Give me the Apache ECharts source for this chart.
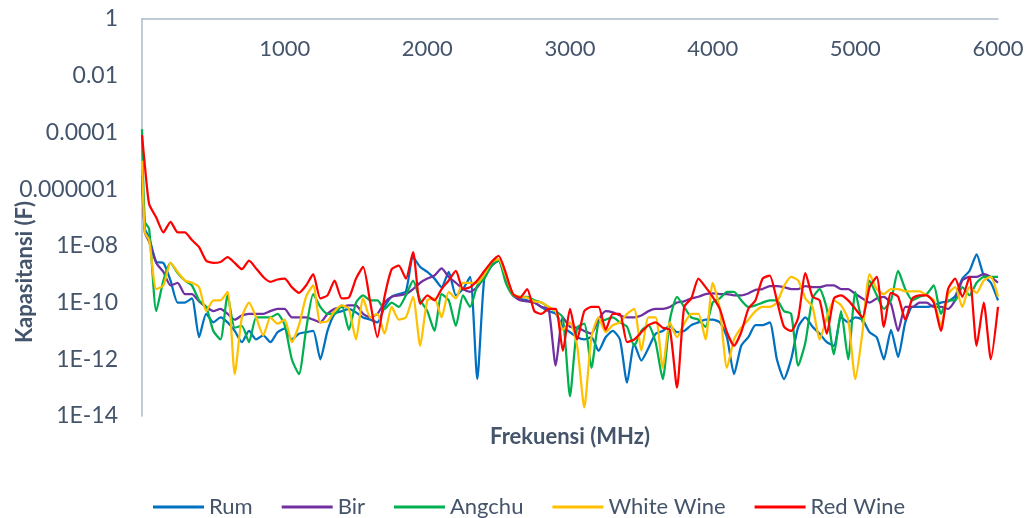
<!DOCTYPE html>
<html>
<head>
<meta charset="utf-8">
<script src="https://cdn.jsdelivr.net/npm/echarts@6/dist/echarts.min.js"></script>
<style>
  html, body { margin: 0; padding: 0; background: #ffffff; }
  #chart { width: 1028px; height: 518px; }
</style>
</head>
<body>
<div id="chart"></div>
<script>
// Frequency grid (MHz)
const freq = [
  0, 20, 50, 100, 150, 200, 250, 300, 350, 400,
  450, 500, 550, 600, 650, 700, 750, 800, 850, 900,
  950, 1000, 1050, 1100, 1150, 1200, 1250, 1300, 1350, 1400,
  1450, 1500, 1550, 1600, 1650, 1700, 1750, 1800, 1850, 1900,
  1950, 2000, 2050, 2100, 2150, 2200, 2250, 2300, 2350, 2400,
  2450, 2500, 2550, 2600, 2650, 2700, 2750, 2800, 2850, 2900,
  2950, 3000, 3050, 3100, 3150, 3200, 3250, 3300, 3350, 3400,
  3450, 3500, 3550, 3600, 3650, 3700, 3750, 3800, 3850, 3900,
  3950, 4000, 4050, 4100, 4150, 4200, 4250, 4300, 4350, 4400,
  4450, 4500, 4550, 4600, 4650, 4700, 4750, 4800, 4850, 4900,
  4950, 5000, 5050, 5100, 5150, 5200, 5250, 5300, 5350, 5400,
  5450, 5500, 5550, 5600, 5650, 5700, 5750, 5800, 5850, 5900,
  5950, 6000
];

// Capacitance (F) per sample
const rum = [
  5e-6, 4e-8, 2e-8, 2.7e-9, 2.5e-9, 6e-10, 1e-10, 1e-10, 1.4e-10, 6e-12,
  4e-11, 2e-11, 3e-11, 2e-11, 1e-11, 4e-12, 1e-11, 5e-12, 7e-12, 4e-12,
  9e-12, 1.2e-11, 5e-12, 8e-12, 9e-12, 1e-11, 1e-12, 1e-11, 4e-11, 5e-11,
  6e-11, 4.5e-11, 3e-11, 2.5e-11, 2e-11, 7e-11, 1.6e-10, 2e-10, 2.5e-10, 4e-9,
  1.8e-9, 1.2e-9, 7e-10, 3.5e-10, 1.2e-9, 1.8e-10, 3e-10, 8e-10, 2e-13, 8e-10,
  2e-9, 3e-9, 8e-10, 2e-10, 1.4e-10, 1.2e-10, 1e-10, 7e-11, 5e-11, 4e-11,
  1.4e-11, 9e-12, 6e-12, 5e-12, 6e-12, 2e-12, 6e-12, 1e-11, 5e-12, 1.5e-13,
  3.5e-12, 9e-13, 2.5e-12, 8e-12, 1e-11, 1.5e-11, 9e-12, 1e-11, 1.6e-11, 2e-11,
  2.5e-11, 2.5e-11, 2e-11, 6e-12, 3e-13, 3e-12, 6e-12, 1.6e-11, 1.6e-11, 2e-11,
  1e-12, 2e-13, 1e-12, 1.4e-11, 3e-11, 1.4e-11, 8e-12, 4e-12, 3e-12, 3e-11,
  2e-11, 3e-11, 2.5e-11, 9e-12, 6e-12, 1e-12, 1.1e-11, 1.2e-12, 2e-11, 7e-11,
  7e-11, 7e-11, 8e-11, 1e-10, 1.1e-10, 1.7e-10, 7e-10, 1.3e-9, 5e-9, 9e-10,
  5e-10, 1.2e-10
];
const bir = [
  3e-6, 3e-8, 1.4e-8, 2.5e-9, 1.2e-9, 4e-10, 5e-10, 2e-10, 2e-10, 1.1e-10,
  7e-11, 5e-11, 6e-11, 4e-11, 2.5e-11, 3.5e-11, 4e-11, 4e-11, 4e-11, 5e-11,
  6e-11, 6e-11, 3e-11, 3e-11, 3e-11, 2.5e-11, 2e-11, 4e-11, 6e-11, 7e-11,
  8e-11, 8e-11, 4e-11, 3e-11, 4e-11, 1e-10, 1.6e-10, 1.8e-10, 2e-10, 3e-10,
  5e-10, 7e-10, 9e-10, 1.6e-9, 8e-10, 5e-10, 3e-10, 2.4e-10, 3.5e-10, 8e-10,
  2e-9, 3e-9, 7e-10, 1.8e-10, 1.2e-10, 1.1e-10, 1e-10, 7e-11, 6e-11, 6e-13,
  3e-11, 1.4e-11, 1.3e-11, 1e-11, 8e-12, 2.5e-11, 5e-11, 4.5e-11, 3.5e-11, 3e-11,
  3e-11, 3.5e-11, 5e-11, 6e-11, 6e-11, 7e-11, 1e-10, 1.1e-10, 1.4e-10, 1.6e-10,
  2e-10, 2.1e-10, 2e-10, 2e-10, 1.8e-10, 1.8e-10, 2.1e-10, 2.8e-10, 3e-10, 3.8e-10,
  3.8e-10, 3.5e-10, 3e-10, 3e-10, 3.8e-10, 3.5e-10, 3.5e-10, 4e-10, 4e-10, 3e-10,
  3e-10, 2e-10, 1.4e-10, 1e-10, 1.4e-10, 1.6e-10, 9e-11, 1e-11, 7e-11, 7e-11,
  1e-10, 1e-10, 7e-11, 7e-11, 6e-11, 1.2e-10, 6e-10, 8e-10, 8e-10, 1e-9,
  8e-10, 5e-10
];
const angchu = [
  1.3e-4, 7e-8, 4e-8, 5e-11, 6e-10, 2.5e-9, 1.1e-9, 6e-10, 4e-10, 1.2e-10,
  7e-11, 1e-11, 5e-12, 1.8e-10, 1.3e-11, 1.5e-11, 4e-12, 3e-11, 3e-11, 3e-11,
  4e-11, 1.6e-11, 1e-12, 3e-13, 1.1e-11, 2e-10, 7e-11, 4e-11, 4e-11, 8e-11,
  1.1e-11, 1e-10, 1.8e-10, 1.2e-10, 1.2e-10, 6e-11, 1e-10, 7e-11, 1.8e-10, 6e-10,
  1.2e-10, 5e-11, 1e-11, 2e-10, 1.2e-10, 1.5e-11, 1.8e-10, 7e-11, 4e-10, 7e-10,
  2e-9, 3e-9, 5e-10, 1.8e-10, 1.6e-10, 1.6e-10, 1.2e-10, 1e-10, 7e-11, 5e-11,
  3e-11, 5e-14, 1.3e-11, 1.8e-11, 5e-13, 2e-11, 2.5e-11, 3e-11, 2e-11, 1.4e-11,
  3e-12, 1e-11, 1.6e-11, 4e-12, 2e-13, 2.5e-11, 1.6e-10, 7e-11, 3e-11, 2.5e-11,
  1.4e-11, 1e-10, 1.4e-10, 2.4e-10, 2.4e-10, 1.2e-10, 7e-11, 8e-11, 1e-10, 1.2e-10,
  1.2e-10, 5e-11, 4e-11, 6e-13, 4e-12, 1.4e-10, 3e-10, 6e-11, 1.5e-12, 5e-11,
  1e-12, 2.4e-10, 2e-11, 6e-10, 1.8e-10, 6e-11, 1.2e-10, 1.3e-9, 3e-10, 1.2e-10,
  1.6e-10, 2e-10, 4e-10, 4e-11, 1.2e-10, 1.2e-10, 3.5e-10, 1.8e-10, 5e-10, 8e-10,
  8e-10, 8e-10
];
const whiteWine = [
  1e-5, 3e-8, 1.6e-8, 3e-10, 4e-10, 2.5e-9, 1.2e-9, 6e-10, 5e-10, 3.5e-10,
  5e-11, 1.2e-10, 1.2e-10, 2.4e-10, 3e-13, 3e-11, 1e-10, 3e-11, 7e-12, 3e-11,
  1.8e-11, 2.5e-11, 4e-12, 1.6e-11, 1.6e-10, 4e-10, 2e-11, 2.2e-11, 5e-11, 8e-11,
  6e-11, 5e-12, 1.4e-10, 3e-11, 4e-11, 8e-12, 7e-11, 2.5e-11, 3e-11, 1.6e-10,
  3e-12, 1.2e-10, 1.4e-10, 3e-11, 2.4e-10, 1.4e-10, 5e-10, 5e-10, 5e-10, 1e-9,
  2.7e-9, 3.4e-9, 9e-10, 2e-10, 1.6e-10, 1.5e-10, 1.1e-10, 1e-10, 7e-11, 5e-11,
  1.1e-11, 2e-11, 3e-12, 2e-14, 6e-12, 3e-11, 9e-12, 1.6e-11, 2e-11, 4e-11,
  6e-11, 2e-12, 3e-11, 3e-11, 5e-13, 2e-11, 6e-12, 1.8e-11, 4e-11, 4e-11,
  5e-12, 5e-10, 6e-11, 5e-13, 5e-12, 1.3e-11, 2.5e-11, 5e-11, 7e-11, 7e-11,
  1e-10, 3.8e-10, 8e-10, 6e-10, 1.4e-10, 7e-11, 5e-12, 3e-11, 1.2e-10, 8e-11,
  2.5e-11, 2e-13, 9e-12, 1e-9, 3e-10, 2e-10, 3e-10, 3e-10, 2.5e-10, 2.5e-10,
  2.5e-10, 1.8e-10, 1.2e-10, 1.5e-11, 2e-10, 3.5e-10, 7e-11, 3.5e-10, 2.2e-10, 6e-10,
  8e-10, 1.6e-10
];
const redWine = [
  8e-5, 7e-6, 3e-7, 1e-7, 3e-8, 7e-8, 3e-8, 3e-8, 1.6e-8, 9e-9,
  3e-9, 2.5e-9, 2.7e-9, 4e-9, 2.5e-9, 1.5e-9, 3e-9, 1.6e-9, 8e-10, 5.4e-10,
  6.5e-10, 7e-10, 3.5e-10, 2.2e-10, 4e-10, 1e-9, 1.4e-10, 1.8e-10, 6e-10, 1.4e-10,
  1.5e-10, 7e-10, 1.8e-9, 1e-10, 6e-12, 1.6e-10, 1.5e-9, 2e-9, 7e-10, 6e-9,
  9e-11, 1.8e-10, 1.2e-10, 3e-10, 6e-10, 1.3e-9, 3e-10, 3.5e-10, 6e-10, 1.3e-9,
  2.7e-9, 4.4e-9, 1.1e-9, 2e-10, 1.5e-10, 3e-10, 5e-11, 4e-11, 6e-11, 6e-11,
  2e-12, 6e-11, 5e-12, 5e-11, 7e-11, 7e-11, 1.1e-11, 4e-11, 4e-11, 4e-12,
  5e-12, 9e-12, 1.6e-11, 2e-11, 1.3e-11, 1.1e-11, 1e-13, 7e-11, 1.4e-10, 7e-10,
  3.5e-10, 1.6e-10, 6e-11, 9e-12, 3e-12, 9e-12, 6e-11, 1.2e-10, 7e-10, 9e-10,
  1.2e-10, 1.4e-11, 1e-11, 3e-11, 1.1e-9, 1.6e-10, 1.2e-10, 8e-12, 1.4e-10, 1.8e-10,
  1.2e-10, 6e-11, 3e-11, 3.5e-10, 8e-10, 1.4e-11, 2.2e-10, 1.6e-10, 2.5e-11, 1.4e-10,
  1.8e-10, 1.8e-10, 1e-10, 1e-11, 3e-10, 7e-10, 1.6e-10, 8e-10, 3e-12, 1e-10,
  1e-12, 7e-11
];

const seriesNames = ['Rum', 'Bir', 'Angchu', 'White Wine', 'Red Wine'];
const seriesValues = [rum, bir, angchu, whiteWine, redWine];
const seriesColors = ['#0070C0', '#7030A0', '#00B050', '#FFC000', '#FF0000'];

// Y tick labels keyed by decade exponent
const yTickLabels = {
  '0': '1', '-2': '0.01', '-4': '0.0001', '-6': '0.000001',
  '-8': '1E-08', '-10': '1E-10', '-12': '1E-12', '-14': '1E-14'
};
const xTickLabels = ['1000', '2000', '3000', '4000', '5000', '6000'];

const textColor = '#44546A';
const axisColor = '#ADB9CA';
const font = 'Lato';

const chart = echarts.init(document.getElementById('chart'), null, { renderer: 'canvas' });

const option = {
  animation: false,
  backgroundColor: '#ffffff',
  textStyle: { fontFamily: font },
  grid: { left: 142, right: 30, top: 19, bottom: 102, containLabel: false },
  xAxis: {
    type: 'value',
    position: 'top',
    min: 0,
    max: 6000,
    interval: 1000,
    axisLine: { show: true, lineStyle: { color: axisColor, width: 1.5 } },
    axisTick: { show: false },
    splitLine: { show: false },
    axisLabel: {
      inside: true,
      margin: 19,
      color: textColor,
      fontSize: 22,
      fontFamily: font,
      formatter: function (v) {
        const s = String(v);
        return xTickLabels.indexOf(s) >= 0 ? s : '';
      }
    }
  },
  yAxis: {
    type: 'log',
    logBase: 10,
    min: 1e-14,
    max: 1,
    interval: 2,
    splitNumber: 7,
    axisLine: { show: true, lineStyle: { color: axisColor, width: 1.5 } },
    axisTick: { show: false },
    splitLine: { show: false },
    axisLabel: {
      margin: 24,
      color: textColor,
      fontSize: 23,
      fontFamily: font,
      formatter: function (v) {
        const e = Math.round(Math.log10(v));
        const lab = yTickLabels[String(e)];
        return lab === undefined ? '' : lab;
      }
    }
  },
  legend: {
    data: seriesNames,
    left: 148,
    top: 491,
    icon: 'rect',
    itemWidth: 51,
    itemHeight: 3,
    itemGap: 29,
    textStyle: { color: textColor, fontSize: 22, fontFamily: font }
  },
  graphic: [
    {
      type: 'text',
      x: 25,
      y: 272,
      rotation: Math.PI / 2,
      style: {
        text: 'Kapasitansi (F)',
        fill: textColor,
        font: 'bold 22px ' + font,
        textAlign: 'center',
        textVerticalAlign: 'middle'
      }
    },
    {
      type: 'text',
      x: 570,
      y: 437,
      style: {
        text: 'Frekuensi (MHz)',
        fill: textColor,
        font: 'bold 22px ' + font,
        textAlign: 'center',
        textVerticalAlign: 'middle'
      }
    }
  ],
  series: seriesNames.map(function (name, s) {
    return {
      name: name,
      type: 'line',
      showSymbol: false,
      symbol: 'none',
      smooth: 0.2,
      color: seriesColors[s],
      lineStyle: { width: 2.25, color: seriesColors[s] },
      data: freq.map(function (f, i) { return [f, seriesValues[s][i]]; })
    };
  })
};

chart.setOption(option);
</script>
</body>
</html>
